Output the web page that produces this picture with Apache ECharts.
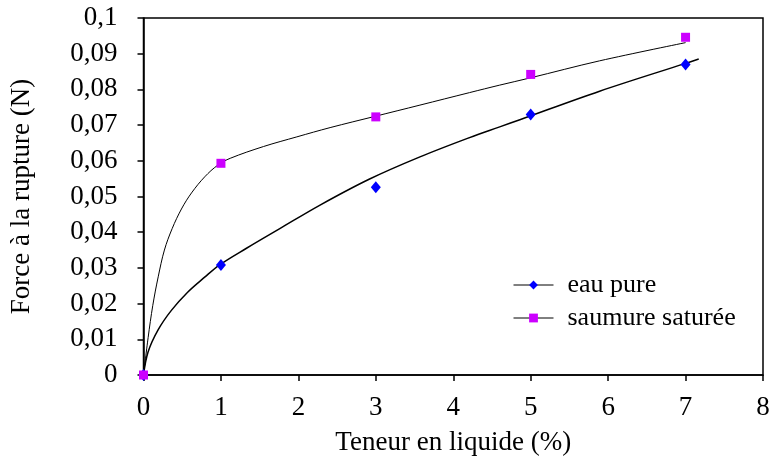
<!DOCTYPE html>
<html>
<head>
<meta charset="utf-8">
<script src="https://cdn.jsdelivr.net/npm/echarts@6/dist/echarts.min.js"></script>
<style>
  html, body { margin: 0; padding: 0; background: #fff; }
  #chart { width: 771px; height: 461px; }
</style>
</head>
<body>
<div id="chart"></div>
<script>
// Measured breaking force against liquid content
const xTicks = [0, 1, 2, 3, 4, 5, 6, 7, 8];
const yTicks = [0, 0.01, 0.02, 0.03, 0.04, 0.05, 0.06, 0.07, 0.08, 0.09, 0.1];
const seriesNames = ['eau pure', 'saumure saturée'];

const eauPureX = [0, 1, 3, 5, 7];
const eauPureY = [0, 0.0308, 0.0526, 0.0730, 0.0870];

const saumureX = [0, 1, 3, 5, 7];
const saumureY = [0, 0.0593, 0.0723, 0.0842, 0.0946];

// Fitted trend curves, sampled along their drawn path
const eauPureTrendX = [0, 0.06, 0.19, 0.36, 0.57, 0.79, 0.98, 1.33, 1.76, 2.28, 2.92, 3.57, 4.21, 4.6, 4.86, 5.89, 7.0, 7.17];
const eauPureTrendY = [0, 0.0065, 0.0127, 0.0181, 0.0232, 0.0274, 0.0308, 0.0355, 0.041, 0.0476, 0.0549, 0.0611, 0.0665, 0.0695, 0.0715, 0.0795, 0.0873, 0.0885];

const saumureTrendX = [0, 0.06, 0.12, 0.19, 0.27, 0.37, 0.49, 0.62, 0.79, 0.96, 1.12, 1.55, 1.98, 2.41, 2.98, 3.57, 4.21, 4.6, 4.99, 5.89, 7.0];
const saumureTrendY = [0, 0.0105, 0.0195, 0.0275, 0.035, 0.041, 0.0465, 0.051, 0.0555, 0.0588, 0.0607, 0.064, 0.0667, 0.0693, 0.0724, 0.0756, 0.0791, 0.0812, 0.0832, 0.088, 0.0931];

const pairs = (xs, ys) => xs.map((x, i) => [x, ys[i]]);
const FONT = 'Liberation Serif';
const fmtComma = v => String(parseFloat(Number(v).toFixed(2))).replace('.', ',');

const chart = echarts.init(document.getElementById('chart'), null, { renderer: 'canvas' });

chart.setOption({
  animation: false,
  backgroundColor: '#fff',
  textStyle: { fontFamily: FONT, color: '#000' },
  grid: {
    left: 143.5, right: 8, top: 18, bottom: 86,
    containLabel: false, outerBoundsMode: 'none',
    show: true, borderColor: '#000', borderWidth: 1.5, backgroundColor: 'transparent'
  },
  xAxis: {
    type: 'value',
    min: xTicks[0], max: xTicks[xTicks.length - 1], interval: 1,
    name: 'Teneur en liquide (%)',
    nameLocation: 'middle', nameGap: 54,
    nameTextStyle: { fontFamily: FONT, fontSize: 27, color: '#000' },
    axisLine: { show: true, onZero: false, lineStyle: { color: '#000', width: 1.5 } },
    axisTick: { show: true, inside: false, length: 6, lineStyle: { color: '#000', width: 1.5 } },
    axisLabel: { fontFamily: FONT, fontSize: 27, color: '#000', margin: 19 },
    splitLine: { show: false }
  },
  yAxis: {
    type: 'value',
    min: yTicks[0], max: yTicks[yTicks.length - 1], interval: 0.01,
    name: 'Force à la rupture (N)',
    nameLocation: 'middle', nameGap: 108, nameRotate: 90,
    nameTextStyle: { fontFamily: FONT, fontSize: 27, color: '#000' },
    axisLine: { show: true, onZero: false, lineStyle: { color: '#000', width: 1.5 } },
    axisTick: { show: true, inside: false, length: 6, lineStyle: { color: '#000', width: 1.5 } },
    axisLabel: { fontFamily: FONT, fontSize: 27, color: '#000', margin: 26, formatter: fmtComma },
    splitLine: { show: false }
  },
  legend: {
    orient: 'vertical',
    left: 508, top: 267,
    itemWidth: 40, itemHeight: 11, itemGap: 7,
    data: seriesNames,
    textStyle: { fontFamily: FONT, fontSize: 26, color: '#000', padding: [0, 0, 0, 9] },
    lineStyle: { color: '#000', width: 1, opacity: 1 }
  },
  series: [
    {
      name: 'eau pure curve', type: 'line', silent: true,
      data: pairs(eauPureTrendX, eauPureTrendY),
      showSymbol: false, symbol: 'none', smooth: 0.35,
      lineStyle: { color: '#000', width: 1.5 }, z: 2
    },
    {
      name: 'saumure curve', type: 'line', silent: true,
      data: pairs(saumureTrendX, saumureTrendY),
      showSymbol: false, symbol: 'none', smooth: 0.35,
      lineStyle: { color: '#000', width: 1 }, z: 2
    },
    {
      name: seriesNames[0], type: 'line',
      data: pairs(eauPureX, eauPureY),
      symbol: 'diamond', symbolSize: [10, 12], showSymbol: true,
      itemStyle: { color: '#0000FF' },
      lineStyle: { opacity: 0, width: 0 }, z: 5
    },
    {
      name: seriesNames[1], type: 'line',
      data: pairs(saumureX, saumureY),
      symbol: 'rect', symbolSize: 9, showSymbol: true,
      itemStyle: { color: '#CC00FF' },
      lineStyle: { opacity: 0, width: 0 }, z: 5
    }
  ]
});
</script>
</body>
</html>
